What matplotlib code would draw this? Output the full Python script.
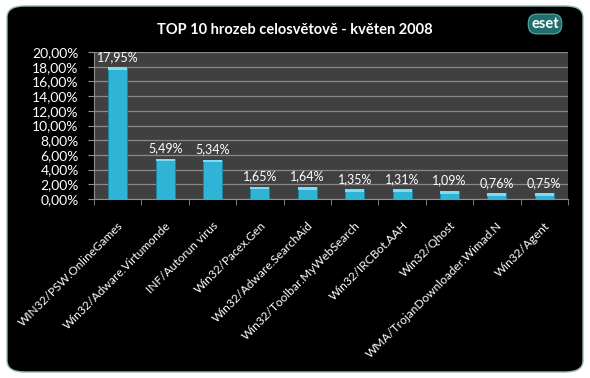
import matplotlib
matplotlib.use("Agg")
import matplotlib.pyplot as plt
from matplotlib.patches import FancyBboxPatch
from matplotlib.ticker import FuncFormatter, MultipleLocator

# data
threats = ["WIN32/PSW.OnlineGames", "Win32/Adware.Virtumonde", "INF/Autorun virus",
           "Win32/Pacex.Gen", "Win32/Adware.SearchAid", "Win32/Toolbar.MyWebSearch",
           "Win32/IRCBot.AAH", "Win32/Qhost", "WMA/TrojanDownloader.Wimad.N",
           "Win32/Agent"]
shares = [17.95, 5.49, 5.34, 1.65, 1.64, 1.35, 1.31, 1.09, 0.76, 0.75]
title = "TOP 10 hrozeb celosvětově - květen 2008"

plt.rcParams['font.family'] = ['Lato', 'DejaVu Sans']

fig = plt.figure(figsize=(5.9, 3.78), dpi=100)
fig.patch.set_facecolor('white')

# black rounded card
card = FancyBboxPatch((7/590, 6/378), 576/590, 366/378,
                      boxstyle="round,pad=0,rounding_size=0.03",
                      transform=fig.transFigure, facecolor='black',
                      edgecolor='#8fb8b0', linewidth=1.0, zorder=0)
fig.add_artist(card)

ax = fig.add_axes([94/590, 1 - 199/378, 474/590, 147/378])
ax.set_facecolor('#404040')

x = range(len(shares))
ax.bar(x, shares, width=0.4, color='#2fb4d8', edgecolor='#1b87a6', linewidth=0.6, zorder=3)
# light top cap
ax.bar(x, [0.35] * len(shares), bottom=[s - 0.35 for s in shares], width=0.4,
       color='#7fdcf0', linewidth=0, zorder=4)

for i, v in enumerate(shares):
    ax.text(i, v + 0.6, f"{v:.2f}%".replace('.', ','), ha='center', va='bottom',
            color='white', fontsize=9)

ax.set_xlim(-0.5, len(shares) - 0.5)
ax.set_ylim(0, 20)
ax.yaxis.set_major_locator(MultipleLocator(2))
ax.yaxis.set_major_formatter(FuncFormatter(lambda v, p: f"{v:.2f}%".replace('.', ',')))
ax.grid(axis='y', color='#8a8a8a', linewidth=0.9, zorder=1)
ax.set_axisbelow(True)

ax.set_xticks(list(x))
ax.set_xticklabels(threats, rotation=45, ha='right', va='top', rotation_mode='anchor')
ax.set_xticks([i + 0.5 for i in range(-1, len(shares))], minor=True)
ax.tick_params(axis='x', which='major', length=0, pad=15, colors='white', labelsize=8.6)
ax.tick_params(axis='x', which='minor', length=4, color='#909090')
ax.tick_params(axis='y', length=4, pad=7, color='#909090', colors='white', labelsize=10)
for s in ['top', 'right']:
    ax.spines[s].set_visible(False)
ax.spines['left'].set_color('#909090')
ax.spines['bottom'].set_color('#909090')

fig.text(0.5, 1 - 30/378, title, ha='center', va='center', color='white',
         fontsize=10.5, fontweight='bold')

# logo
fig.text(545/590, 1 - 24/378, "eset", ha='center', va='center', color='white',
         fontsize=10.5, fontweight='bold',
         bbox=dict(boxstyle='round,pad=0.2,rounding_size=0.6', facecolor='#1f6f6c',
                   edgecolor='#5fa8a0', linewidth=0.8))

fig.savefig("out.png", dpi=100, facecolor=fig.get_facecolor())
